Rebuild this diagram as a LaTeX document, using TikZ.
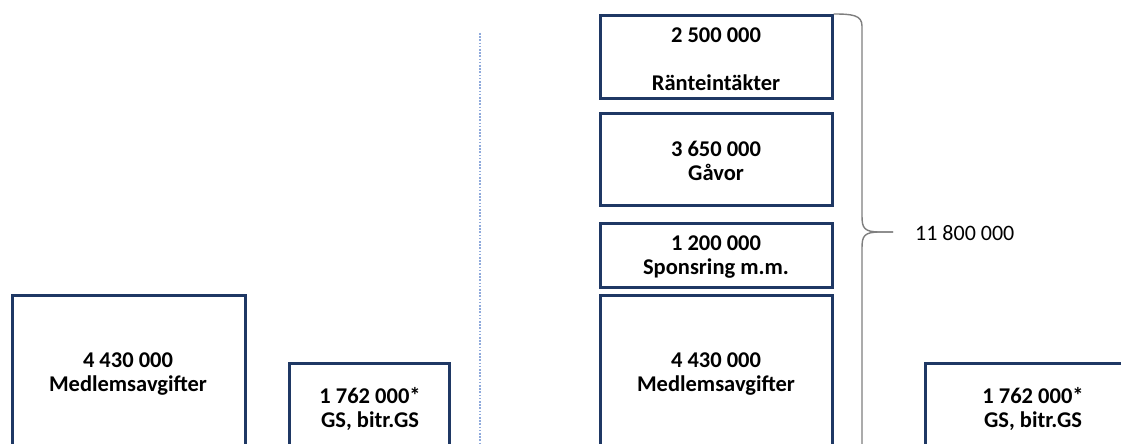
\documentclass[tikz,border=0pt]{standalone}
\usepackage{fontspec}
\setmainfont{Carlito}
\definecolor{boxblue}{HTML}{1F3864}
\definecolor{dotblue}{HTML}{8FAADC}
\definecolor{bracegray}{HTML}{7F7F7F}
\begin{document}
\begin{tikzpicture}[x=1pt,y=-1pt,
  box/.style={draw=boxblue, line width=2.6pt, inner sep=0pt, anchor=north west},
  lbl/.style={font=\bfseries\fontsize{22.5}{23.5}\selectfont, align=center, inner sep=0pt},
  plain/.style={font=\fontsize{22}{24}\selectfont, inner sep=0pt, anchor=west},
  bracestyle/.style={draw=bracegray, line width=1.4pt},
  sep/.style={draw=dotblue, line width=1.3pt, dash pattern=on 1.6pt off 1.6pt}
]
\useasboundingbox (0,0) rectangle (1121,444);
\clip (0,0) rectangle (1121,444);
\fill[white] (0,0) rectangle (1121,444);

% left side
\node[box, minimum width=233pt, minimum height=200pt] (lmed) at (11,294) {};
\node[box, minimum width=160pt, minimum height=200pt] (lgs) at (288,362) {};
\node[lbl] (lmedt) at (128,374) {4 430 000\\Medlemsavgifter};
\node[lbl] (lgst) at (370,409) {1 762 000*\\GS, bitr.GS};

% separator
\coordinate (septop) at (480,33);
\coordinate (sepbot) at (480,446);
\draw[sep] (septop) -- (sepbot);

% right side
\node[box, minimum width=232pt, minimum height=83pt] (rrant) at (599,14) {};
\node[box, minimum width=232pt, minimum height=92pt] (rgav) at (599,112) {};
\node[box, minimum width=232pt, minimum height=64pt] (rspon) at (599,222) {};
\node[box, minimum width=232pt, minimum height=200pt] (rmed) at (599,294) {};
\node[box, minimum width=250pt, minimum height=200pt] (rgs) at (924,362) {};

\node[lbl] (rrantt) at (716,59) {2 500 000\\[24pt]Ränteintäkter};
\node[lbl] (rgavt) at (716,161) {3 650 000\\Gåvor};
\node[lbl] (rspont) at (716,257) {1 200 000\\Sponsring m.m.};
\node[lbl] (rmedt) at (716,374) {4 430 000\\Medlemsavgifter};
\node[lbl] (rgst) at (1033,409) {1 762 000*\\GS, bitr.GS};

% brace
\coordinate (bstart) at (rrant.north east);
\coordinate (btip) at (893,232);
\coordinate (bend) at (862,450);
\node[plain] (total) at (915,233) {11 800 000};
\draw[bracestyle] (bstart) .. controls (852,14) and (862,15) .. (862,26)
  -- (862,216) .. controls (862,228) and (864,232) .. (880,232) -- (btip);
\draw[bracestyle] (btip) -- (880,232) .. controls (864,232) and (862,236) .. (862,248) -- (bend);
\end{tikzpicture}
\end{document}
